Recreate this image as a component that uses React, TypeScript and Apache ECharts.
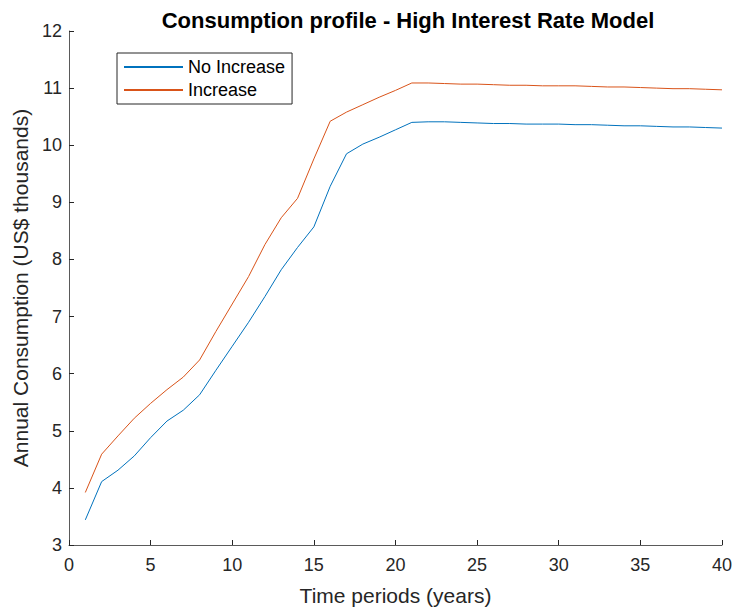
import React, { useEffect, useRef } from "react";
import * as echarts from "echarts";

const periods: number[] = Array.from({ length: 40 }, (_, i) => i + 1);

const noIncrease: number[] = [
  3.44, 4.11, 4.31, 4.56, 4.88, 5.17, 5.36, 5.63, 6.06, 6.48,
  6.9, 7.35, 7.82, 8.21, 8.57, 9.28, 9.85, 10.02, 10.14, 10.27,
  10.4, 10.41, 10.41, 10.4, 10.39, 10.38, 10.38, 10.37, 10.37, 10.37,
  10.36, 10.36, 10.35, 10.34, 10.34, 10.33, 10.32, 10.32, 10.31, 10.3,
];

const increase: number[] = [
  3.92, 4.59, 4.91, 5.22, 5.48, 5.72, 5.94, 6.24, 6.74, 7.22,
  7.7, 8.26, 8.73, 9.07, 9.76, 10.42, 10.58, 10.71, 10.84, 10.96,
  11.09, 11.09, 11.08, 11.07, 11.07, 11.06, 11.05, 11.05, 11.04, 11.04,
  11.04, 11.03, 11.02, 11.02, 11.01, 11.0, 10.99, 10.99, 10.98, 10.97,
];

const seriesNames = ["No Increase", "Increase"];
const FONT = "'Liberation Sans', Arial, Helvetica, sans-serif";

export default function App() {
  const ref = useRef<HTMLDivElement>(null);
  useEffect(() => {
    if (!ref.current) return;
    const chart = echarts.init(ref.current, undefined, { renderer: "svg" });
    const axisCommon = {
      axisLine: { show: true, lineStyle: { color: "#5a5a5a", width: 1 } },
      axisTick: { show: true, inside: true, length: 5, lineStyle: { color: "#262626" } },
      axisLabel: { color: "#262626", fontSize: 18, fontFamily: FONT },
      splitLine: { show: false },
      nameTextStyle: { color: "#262626", fontSize: 21, fontFamily: FONT },
    };
    chart.setOption({
      animation: false,
      backgroundColor: "#ffffff",
      title: {
        text: "Consumption profile - High Interest Rate Model",
        left: 403,
        textAlign: "center",
        top: 4,
        textStyle: { fontSize: 22, fontWeight: "bold", color: "#000", fontFamily: FONT },
      },
      legend: {
        orient: "vertical",
        left: 117,
        top: 53,
        padding: [4, 7, 4, 7],
        itemGap: 3,
        itemWidth: 59,
        itemHeight: 2,
        icon: "rect",
        borderColor: "#262626",
        borderWidth: 1,
        backgroundColor: "#fff",
        data: seriesNames,
        textStyle: { fontSize: 18, color: "#000", fontFamily: FONT, lineHeight: 20, padding: [0, 0, 0, 0] },
      },
      grid: { left: 69, right: 11, top: 31, bottom: 68 },
      xAxis: {
        type: "value",
        min: 0,
        max: 40,
        interval: 5,
        name: "Time periods (years)",
        nameLocation: "middle",
        nameGap: 40,
        ...axisCommon,
        axisLabel: { ...axisCommon.axisLabel, margin: 11 },
      },
      yAxis: {
        type: "value",
        min: 3,
        max: 12,
        interval: 1,
        name: "Annual Consumption (US$ thousands)",
        nameLocation: "middle",
        nameGap: 38,
        ...axisCommon,
        axisLabel: { ...axisCommon.axisLabel, margin: 7 },
      },
      series: [
        {
          name: seriesNames[0],
          type: "line",
          data: periods.map((t, i) => [t, noIncrease[i]]),
          showSymbol: false,
          symbol: "none",
          lineStyle: { color: "#0072BD", width: 1 },
          itemStyle: { color: "#0072BD" },
        },
        {
          name: seriesNames[1],
          type: "line",
          data: periods.map((t, i) => [t, increase[i]]),
          showSymbol: false,
          symbol: "none",
          lineStyle: { color: "#D95319", width: 1 },
          itemStyle: { color: "#D95319" },
        },
      ],
    });
    return () => chart.dispose();
  }, []);
  return <div ref={ref} style={{ width: 735, height: 613, position: "absolute", left: 0, top: 0 }} />;
}
